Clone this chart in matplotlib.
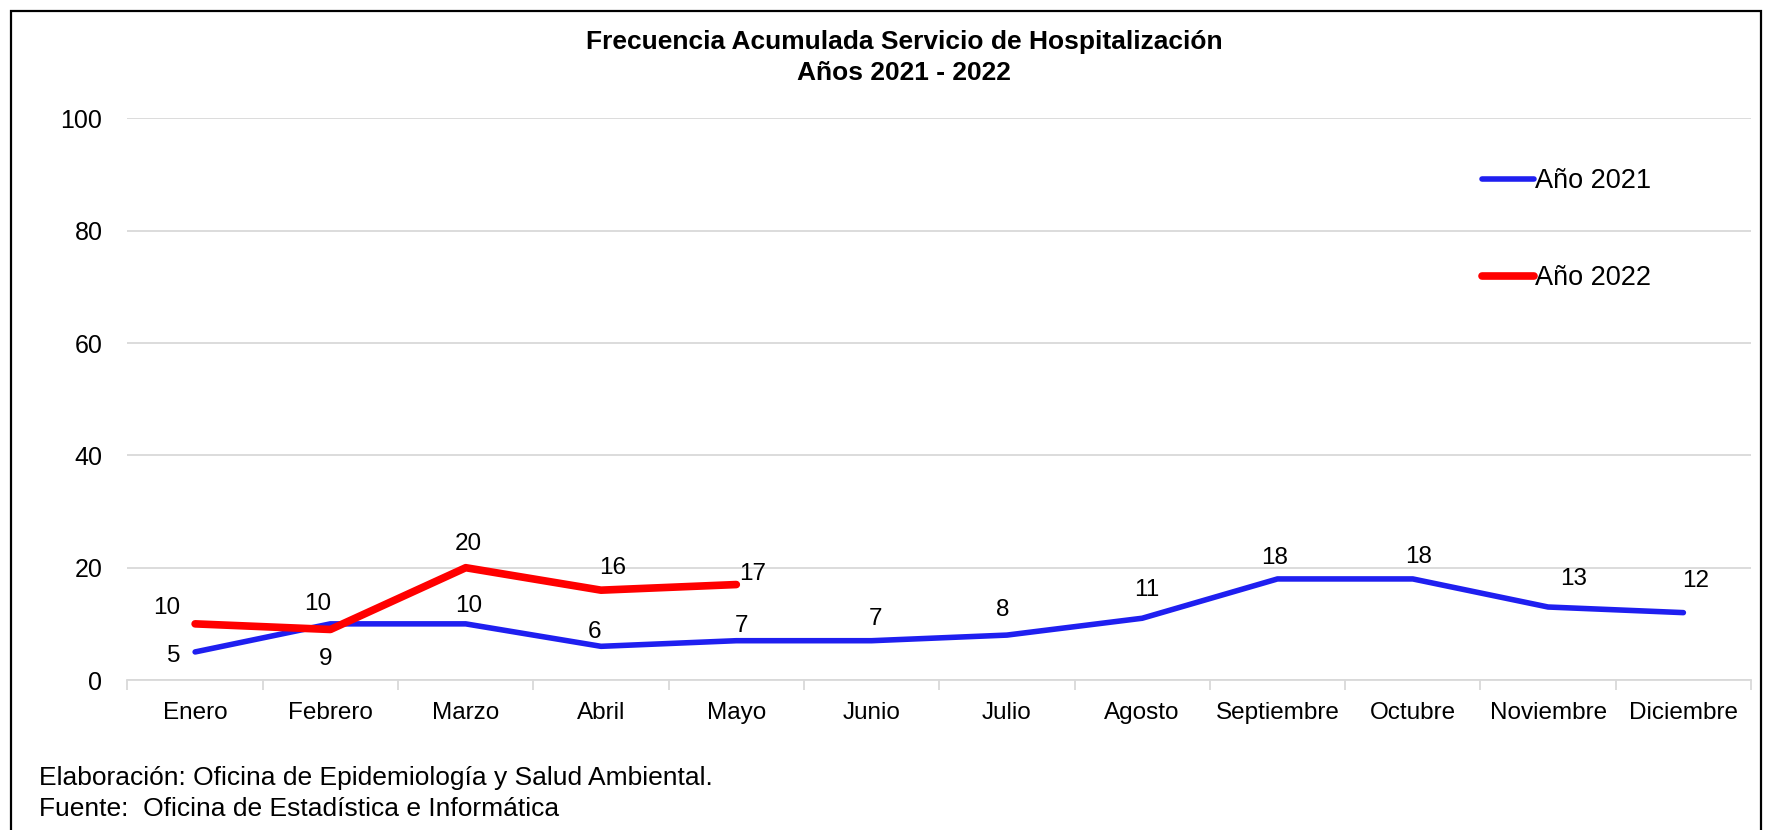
import matplotlib
matplotlib.use('Agg')
import matplotlib.pyplot as plt
from matplotlib.patches import Rectangle

plt.rcParams['font.family'] = ['Liberation Sans', 'DejaVu Sans']

# Data
meses = ['Enero', 'Febrero', 'Marzo', 'Abril', 'Mayo', 'Junio', 'Julio',
         'Agosto', 'Septiembre', 'Octubre', 'Noviembre', 'Diciembre']
valores_2021 = [5, 10, 10, 6, 7, 7, 8, 11, 18, 18, 13, 12]
valores_2022 = [10, 9, 20, 16, 17]

# label offsets in pixels (dx, dy) relative to each point
off_2021 = [(-21, -4), (-13, 20), (3, 18), (-7, 14), (5, 15), (4, 22), (-4, 25),
            (5, 28), (-3, 21), (6, 22), (26, 28), (12, 32)]
off_2022 = [(-28, 16), (-5, -30), (3, 24), (12, 22), (16, 11)]

fig = plt.figure(figsize=(17.68, 8.30), dpi=100)
ax = fig.add_axes([0.0721, 0.1807, 0.9183, 0.6766])

x21 = list(range(len(valores_2021)))
x22 = list(range(len(valores_2022)))
ax.plot(x21, valores_2021, color='#1F1FF0', lw=4.0, solid_capstyle='round',
        solid_joinstyle='round', label='Año 2021', zorder=3)
ax.plot(x22, valores_2022, color='#FF0000', lw=5.5, solid_capstyle='round',
        solid_joinstyle='round', label='Año 2022', zorder=4)

for x, v, (dx, dy) in zip(x21, valores_2021, off_2021):
    ax.annotate(str(v), (x, v), xytext=(dx * 0.72, dy * 0.72), textcoords='offset points',
                ha='center', va='center', fontsize=17.5, color='#000000')
for x, v, (dx, dy) in zip(x22, valores_2022, off_2022):
    ax.annotate(str(v), (x, v), xytext=(dx * 0.72, dy * 0.72), textcoords='offset points',
                ha='center', va='center', fontsize=17.5, color='#000000')

ax.set_xlim(-0.5, len(meses) - 0.5)
ax.set_ylim(0, 100)
ax.set_yticks([0, 20, 40, 60, 80, 100])
ax.set_xticks(x21)
ax.set_xticklabels(meses)
ax.set_xticks([i - 0.5 for i in range(len(meses) + 1)], minor=True)
ax.tick_params(axis='x', which='major', length=0, pad=16, labelsize=17.5)
ax.tick_params(axis='x', which='minor', length=7, color='#D9D9D9', width=1.3)
ax.tick_params(axis='y', length=0, pad=18, labelsize=18)
ax.grid(axis='y', color='#D9D9D9', lw=1.3)
ax.set_axisbelow(True)
for s in ['top', 'right', 'left']:
    ax.spines[s].set_visible(False)
ax.spines['bottom'].set_color('#D9D9D9')
ax.spines['bottom'].set_linewidth(1.3)

ax.legend(loc='upper left', bbox_to_anchor=(0.8195, 0.955), frameon=False, fontsize=19.5,
          handlelength=1.9, handletextpad=0.05, labelspacing=2.62)

fig.text(0.5115, 0.964, 'Frecuencia Acumulada Servicio de Hospitalización\nAños 2021 - 2022',
         ha='center', va='top', fontsize=19, fontweight='bold', linespacing=1.4)

fig.text(0.022, 0.0627, 'Elaboración: Oficina de Epidemiología y Salud Ambiental.',
         ha='left', va='center', fontsize=19)
fig.text(0.022, 0.0259, 'Fuente:  Oficina de Estadística e Informática',
         ha='left', va='center', fontsize=19)

# outer border
fig.patches.append(Rectangle((11 / 1768, -0.05), 1750 / 1768, 1.05 - 11 / 830,
                             transform=fig.transFigure, fill=False, ec='black', lw=1.6))

fig.savefig('out.png', dpi=100)
